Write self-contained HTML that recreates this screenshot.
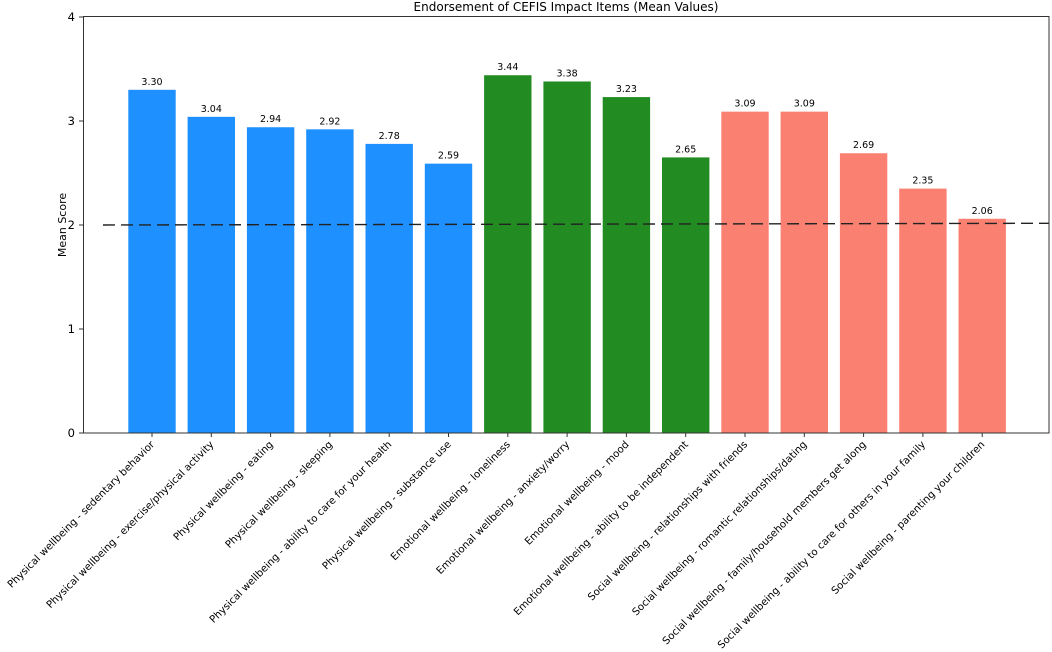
<!DOCTYPE html>
<html><head><meta charset="utf-8"><style>
body{margin:0;background:#fff}
svg{display:block;font-family:"DejaVu Sans","Liberation Sans",sans-serif}
</style></head><body>
<svg id="chart" width="1052" height="652" viewBox="0 0 1052 652">
<text x="566" y="11" font-size="12" text-anchor="middle">Endorsement of CEFIS Impact Items (Mean Values)</text>
<text transform="translate(66,225) rotate(-90)" font-size="11" text-anchor="middle">Mean Score</text>
<g id="bars"></g>
<g id="yticks"></g>
<g id="xticks"></g>
<line id="ref" stroke="#222" stroke-width="1.4" stroke-dasharray="12,6"/>
<rect x="83.5" y="16.5" width="965.5" height="416.5" fill="none" stroke="#333" stroke-width="1"/>
</svg>
<script>
const categories=["Physical wellbeing - sedentary behavior","Physical wellbeing - exercise/physical activity","Physical wellbeing - eating","Physical wellbeing - sleeping","Physical wellbeing - ability to care for your health","Physical wellbeing - substance use","Emotional wellbeing - loneliness","Emotional wellbeing - anxiety/worry","Emotional wellbeing - mood","Emotional wellbeing - ability to be independent","Social wellbeing - relationships with friends","Social wellbeing - romantic relationships/dating","Social wellbeing - family/household members get along","Social wellbeing - ability to care for others in your family","Social wellbeing - parenting your children"];
const values=[3.30,3.04,2.94,2.92,2.78,2.59,3.44,3.38,3.23,2.65,3.09,3.09,2.69,2.35,2.06];
const groups=["physical","physical","physical","physical","physical","physical","emotional","emotional","emotional","emotional","social","social","social","social","social"];
const yTicks=[0,1,2,3,4];
const refValue=2;
const colors={physical:"#1e90ff",emotional:"#228b22",social:"#fa8072"};
const NS="http://www.w3.org/2000/svg";
const y0=433,pxPerUnit=104,x0=152,step=59.3,bw=47.4;
const yS=v=>y0-v*pxPerUnit;
const xS=i=>x0+i*step;
const bars=document.getElementById('bars'),xt=document.getElementById('xticks'),yt=document.getElementById('yticks');
values.forEach((v,i)=>{
 const r=document.createElementNS(NS,'rect');
 
 
 r.setAttribute('x',xS(i)-bw/2);r.setAttribute('y',yS(v));r.setAttribute('width',bw);r.setAttribute('height',y0-yS(v));r.setAttribute('fill',colors[groups[i]]);
 bars.appendChild(r);
 const t=document.createElementNS(NS,'text');
 
 
 t.setAttribute('x',xS(i));t.setAttribute('y',yS(v)-5);t.setAttribute('font-size','9.5');t.setAttribute('text-anchor','middle');t.textContent=v.toFixed(2);
 bars.appendChild(t);
 const tk=document.createElementNS(NS,'line');
 
 
 tk.setAttribute('x1',xS(i));tk.setAttribute('x2',xS(i));tk.setAttribute('y1',433);tk.setAttribute('y2',437);tk.setAttribute('stroke','#333');
 xt.appendChild(tk);
 const lb=document.createElementNS(NS,'text');
 
 
 lb.setAttribute('transform','translate('+(xS(i)+3)+',445) rotate(-45)');lb.setAttribute('font-size','10.2');lb.setAttribute('text-anchor','end');lb.textContent=categories[i];
 xt.appendChild(lb);
});
yTicks.forEach(v=>{
 const tk=document.createElementNS(NS,'line');
 
 
 tk.setAttribute('x1',79);tk.setAttribute('x2',83.5);tk.setAttribute('y1',yS(v));tk.setAttribute('y2',yS(v));tk.setAttribute('stroke','#333');
 yt.appendChild(tk);
 const t=document.createElementNS(NS,'text');
 
 
 t.setAttribute('x',75);t.setAttribute('y',yS(v)+4);t.setAttribute('font-size','11.5');t.setAttribute('text-anchor','end');t.textContent=v;
 yt.appendChild(t);
});
const ref=document.getElementById('ref');
ref.setAttribute('x1',103);ref.setAttribute('x2',1049);ref.setAttribute('y1',yS(refValue));ref.setAttribute('y2',yS(refValue)-1.7);
</script>
</body></html>
